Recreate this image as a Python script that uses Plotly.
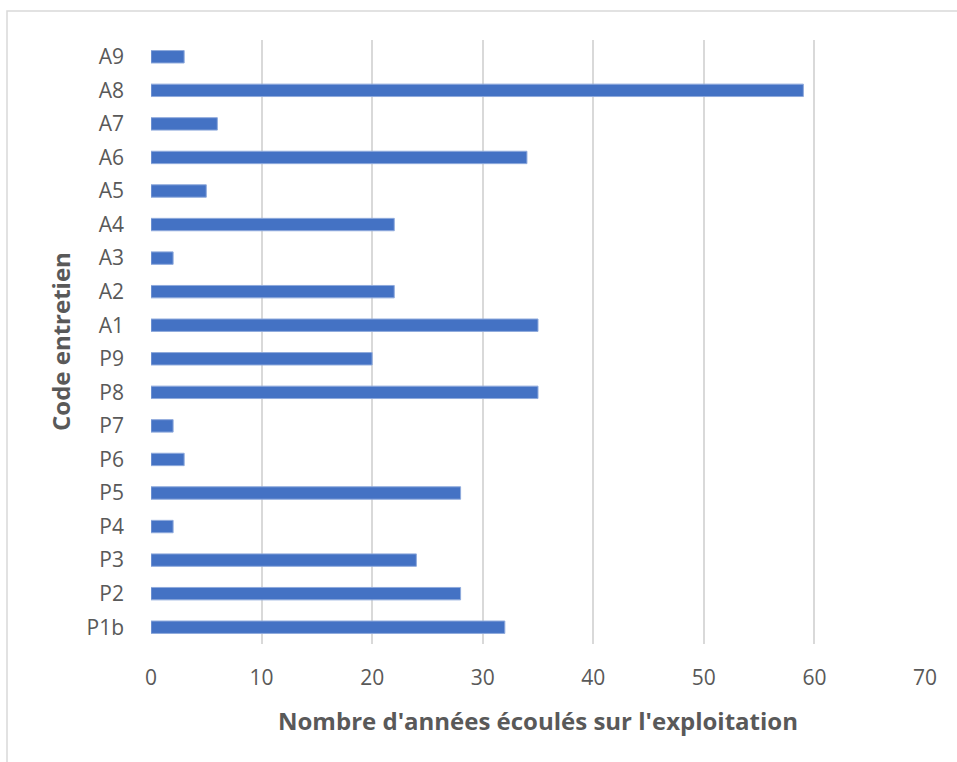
import plotly.graph_objects as go

categories = ["P1b", "P2", "P3", "P4", "P5", "P6", "P7", "P8", "P9",
              "A1", "A2", "A3", "A4", "A5", "A6", "A7", "A8", "A9"]
values = [32, 28, 24, 2, 28, 3, 2, 35, 20,
          35, 22, 2, 22, 5, 34, 6, 59, 3]
x_ticks = [0, 10, 20, 30, 40, 50, 60, 70]

W, H = 957, 762
L, R, T, B = 151, 32, 40, 118
pw, ph = W - L - R, H - T - B

fig = go.Figure(go.Bar(
    y=categories, x=values, orientation="h",
    marker=dict(color="#4472C4", line=dict(color="#8FAADC", width=1)),
))

font = "'Open Sans', Lato, sans-serif"
fig.update_layout(
    width=W, height=H,
    margin=dict(l=L, r=R, t=T, b=B, pad=0),
    paper_bgcolor="white", plot_bgcolor="white",
    bargap=0.63,
    showlegend=False,
    font=dict(family=font, color="#595959", size=21),
    xaxis=dict(range=[0, 70], tickvals=x_ticks, showgrid=True,
               gridcolor="#D9D9D9", gridwidth=1.5, zeroline=False,
               showline=False, ticks="", ticklabelstandoff=19,
               tickfont=dict(size=21, color="#595959"), fixedrange=True),
    yaxis=dict(categoryorder="array", categoryarray=categories,
               showgrid=False, zeroline=False, showline=False, ticks="",
               ticklabelstandoff=26,
               tickfont=dict(size=21, color="#595959"), fixedrange=True),
    shapes=[dict(type="rect", xref="paper", yref="paper",
                 x0=(7 - L) / pw, x1=(W + 20 - L) / pw,
                 y0=-(H + 20 - T - ph) / ph, y1=(T - 11) / ph + 1,
                 line=dict(color="#D9D9D9", width=1.5), layer="below")],
    annotations=[
        dict(text="<b>Nombre d'années écoulés sur l'exploitation</b>",
             xref="paper", yref="paper", x=0.5, y=-(720 - T - ph) / ph,
             xanchor="center", yanchor="middle", showarrow=False,
             font=dict(size=24, color="#595959", family=font)),
        dict(text="<b>Code entretien</b>", textangle=-90,
             xref="paper", yref="paper", x=(60 - L) / pw, y=0.5,
             xanchor="center", yanchor="middle", showarrow=False,
             font=dict(size=24, color="#595959", family=font)),
    ],
)

fig.write_html("out.html", config={"displayModeBar": False},
               post_script="document.body.style.margin='0';document.body.style.padding='0';")
